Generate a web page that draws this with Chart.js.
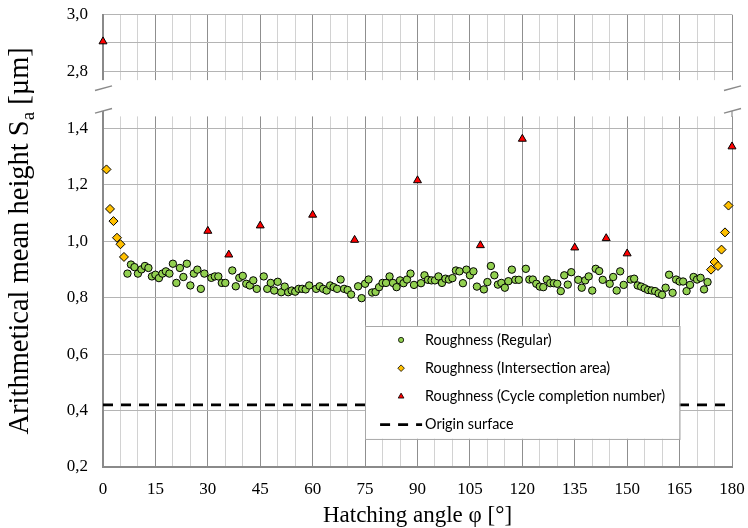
<!DOCTYPE html>
<html><head><meta charset="utf-8">
<script src="https://cdn.jsdelivr.net/npm/chart.js@4.4.1/dist/chart.umd.min.js"></script>
<style>html,body{margin:0;padding:0;background:#fff}#wrap{width:748px;height:528px;position:relative}</style>
</head><body><div id="wrap"><canvas id="c"></canvas></div>
<script>
// ---------- data ----------
const regularAngles = [7,8,9,10,11,12,13,14,15,16,17,18,19,20,21,22,23,24,25,26,27,28,29,
  31,32,33,34,35,37,38,39,40,41,42,43,44,
  46,47,48,49,50,51,52,53,54,55,56,57,58,59,
  61,62,63,64,65,66,67,68,69,70,71,
  73,74,75,76,77,78,79,80,81,82,83,84,85,86,87,88,89,
  91,92,93,94,95,96,97,98,99,100,101,102,103,104,105,106,107,
  109,110,111,112,113,114,115,116,117,118,119,
  121,122,123,124,125,126,127,128,129,130,131,132,133,134,
  136,137,138,139,140,141,142,143,145,146,147,148,149,
  151,152,153,154,155,156,157,158,159,160,161,162,163,164,165,166,167,168,169,170,171,172,173];
const regularValues = [0.885,0.917,0.908,0.885,0.900,0.912,0.905,0.875,0.881,0.869,0.885,0.893,0.885,0.920,0.852,0.905,0.873,0.920,0.843,0.885,0.899,0.831,0.885,
  0.870,0.875,0.875,0.852,0.852,0.896,0.840,0.870,0.877,0.849,0.843,0.861,0.831,
  0.875,0.831,0.852,0.825,0.856,0.819,0.839,0.819,0.825,0.821,0.831,0.831,0.829,0.843,
  0.831,0.840,0.831,0.825,0.843,0.837,0.831,0.864,0.831,0.827,0.811,
  0.840,0.798,0.849,0.864,0.818,0.820,0.837,0.852,0.852,0.875,0.852,0.837,0.861,0.851,0.864,0.885,0.845,
  0.851,0.879,0.863,0.861,0.861,0.875,0.852,0.867,0.864,0.869,0.896,0.893,0.851,0.899,0.879,0.893,0.839,
  0.829,0.855,0.912,0.879,0.846,0.852,0.835,0.858,0.899,0.863,0.863,
  0.902,0.864,0.864,0.849,0.839,0.837,0.864,0.851,0.851,0.849,0.823,0.879,0.846,0.890,
  0.863,0.835,0.861,0.875,0.825,0.902,0.894,0.863,0.849,0.873,0.825,0.893,0.845,
  0.864,0.867,0.843,0.839,0.833,0.827,0.825,0.823,0.815,0.810,0.835,0.881,0.817,0.864,0.857,0.857,0.823,0.845,0.873,0.864,0.870,0.829,0.855];
const intersectionAngles = [1,2,3,4,5,6,174,175,176,177,178,179];
const intersectionValues = [1.254,1.114,1.071,1.012,0.989,0.944,0.899,0.926,0.912,0.970,1.031,1.126];
const cycleAngles = [0,30,36,45,60,72,90,108,120,135,144,150,180];
const cycleValues = [2.905,1.036,0.952,1.055,1.093,1.004,1.215,0.985,1.362,0.977,1.010,0.956,1.335];
const originAngles = [0,180];
const originValues = [0.42,0.42];
const seriesNames = ['Roughness (Regular)','Roughness (Intersection area)','Roughness (Cycle completion number)','Origin surface'];
const xLabelValues = [0,15,30,45,60,75,90,105,120,135,150,165,180];
const yLowerLabelValues = [0.2,0.4,0.6,0.8,1.0,1.2,1.4];
const yUpperLabelValues = [2.8,3.0];
const xTitle = 'Hatching angle φ [°]';
const yTitleMain = 'Arithmetical mean height S', yTitleSub = 'a', yTitleEnd = ' [µm]';

// ---------- axis break set-up ----------
const LOW_MIN = 0.2, LOW_MAX = 1.44;      // lower panel
const HIGH_MIN = 2.77, HIGH_MAX = 3.0;    // upper panel
const GAP = 0.132;                         // blank band between panels (value units)

const pts = (xs, ys) => xs.map((x, i) => ({x: x, y: ys[i]}));
const cyclePts = pts(cycleAngles, cycleValues);
const cycleLow = cyclePts.filter(p => p.y <= LOW_MAX);
const cycleHigh = cyclePts.filter(p => p.y >= HIGH_MIN);

const SERIF = '"Liberation Serif", "Times New Roman", serif';
const GRID_H = '#b4b4b4', GRID_MAJ = '#8f8f8f', GRID_MIN = '#d2d2d2', AXIS = '#8a8a8a';

function stepTicks(a, b, s) { const t = []; for (let v = a; v <= b + 1e-9; v += s) t.push({value: Math.round(v * 100) / 100}); return t; }
const fmt = v => v.toFixed(1).replace('.', ',');
const isLabel = (arr, v) => arr.some(a => Math.abs(a - v) < 1e-6);

const markerStyles = [
  {pointStyle: 'circle', bg: '#92d050', r: 3.7, lr: 2.6},
  {pointStyle: 'rectRot', bg: '#ffc000', r: 4.5, lr: 3.3},
  {pointStyle: 'triangle', bg: '#ff0000', r: 4.6, lr: 3.3}
];

const data = {
  datasets: [
    {label: seriesNames[0], data: pts(regularAngles, regularValues), yAxisID: 'y',
      pointStyle: 'circle', pointRadius: markerStyles[0].r, backgroundColor: markerStyles[0].bg, borderColor: '#000', borderWidth: 1, clip: false},
    {label: seriesNames[1], data: pts(intersectionAngles, intersectionValues), yAxisID: 'y',
      pointStyle: 'rectRot', pointRadius: markerStyles[1].r, backgroundColor: markerStyles[1].bg, borderColor: '#000', borderWidth: 1, clip: false},
    {label: seriesNames[2], data: cycleLow, yAxisID: 'y',
      pointStyle: 'triangle', pointRadius: markerStyles[2].r, backgroundColor: markerStyles[2].bg, borderColor: '#000', borderWidth: 1, clip: false},
    {label: seriesNames[2] + ' ', data: cycleHigh, yAxisID: 'yTop',
      pointStyle: 'triangle', pointRadius: markerStyles[2].r, backgroundColor: markerStyles[2].bg, borderColor: '#000', borderWidth: 1, clip: false},
    {label: seriesNames[3], data: pts(originAngles, originValues), yAxisID: 'y', showLine: true,
      pointRadius: 0, borderColor: '#000', borderWidth: 2.6, borderDash: [10, 8], backgroundColor: '#000', order: 5}
  ]
};

// blank band for the broken axis + break marks
const brokenAxis = {
  id: 'brokenAxis',
  beforeDatasetsDraw(chart) {
    const {ctx, chartArea: ca} = chart;
    const yTop = chart.scales.yTop, y = chart.scales.y;
    const t = yTop.getPixelForValue(HIGH_MIN), b = y.getPixelForValue(LOW_MAX);
    ctx.save();
    ctx.fillStyle = '#fff';
    ctx.fillRect(ca.left - 4, t + 0.5, ca.right - ca.left + 8, b - t - 1);
    ctx.strokeStyle = AXIS; ctx.lineWidth = 1.4;
    const c1 = t + 8.7, c2 = b - 6;
    [ca.left, ca.right].forEach(x0 => {
      [c1, c2].forEach(c => {
        ctx.beginPath(); ctx.moveTo(x0 - 8, c + 2.2); ctx.lineTo(x0 + 9, c - 2.4); ctx.stroke();
      });
      ctx.beginPath(); ctx.lineWidth = x0 === ca.left ? 2 : 1.2; ctx.moveTo(x0, b); ctx.lineTo(x0, c2); ctx.stroke();
      ctx.lineWidth = 1.4;
    });
    ctx.restore();
  }
};

// legend box inside the plot + y-axis title with subscript
const boxLegend = {
  id: 'boxLegend',
  afterDatasetsDraw(chart) {
    const {ctx} = chart;
    const xs = chart.scales.x, ys = chart.scales.y;
    const L = xs.getPixelForValue(75), R = xs.getPixelForValue(165);
    const T = ys.getPixelForValue(0.7), B = ys.getPixelForValue(0.3);
    ctx.save();
    ctx.fillStyle = '#fff'; ctx.fillRect(L, T, R - L, B - T);
    ctx.strokeStyle = '#a8a8a8'; ctx.lineWidth = 1; ctx.strokeRect(Math.round(L) + 0.5, Math.round(T) + 0.5, R - L, B - T);
    let fs = 14;
    ctx.font = fs + 'px Lato, "Open Sans", sans-serif';
    const w = ctx.measureText(seriesNames[2]).width;
    fs = fs * 240 / w;
    ctx.font = fs.toFixed(2) + 'px Lato, "Open Sans", sans-serif';
    ctx.textBaseline = 'middle'; ctx.fillStyle = '#000';
    const rows = [0.65, 0.55, 0.45, 0.35].map(v => ys.getPixelForValue(v));
    const mx = L + 36, tx = L + 60;
    for (let i = 0; i < 3; i++) {
      ctx.fillStyle = markerStyles[i].bg; ctx.strokeStyle = '#000'; ctx.lineWidth = 0.8;
      Chart.helpers.drawPoint(ctx, {pointStyle: markerStyles[i].pointStyle, radius: markerStyles[i].lr, borderWidth: 0.8, rotation: 0}, mx, rows[i]);
      ctx.fillStyle = '#000';
      ctx.fillText(seriesNames[i], tx, rows[i]);
    }
    ctx.strokeStyle = '#000'; ctx.lineWidth = 2.6; ctx.setLineDash([10, 8]);
    ctx.beginPath(); ctx.moveTo(L + 15, rows[3]); ctx.lineTo(L + 57, rows[3]); ctx.stroke();
    ctx.setLineDash([]);
    ctx.fillStyle = '#000';
    ctx.fillText(seriesNames[3], tx, rows[3]);
    ctx.restore();
  },
  afterDraw(chart) {
    const {ctx, chartArea: ca} = chart;
    const fs = 28.5;
    const fMain = fs + 'px ' + SERIF, fSub = Math.round(fs * 0.65) + 'px ' + SERIF;
    ctx.save();
    ctx.font = fMain; const w1 = ctx.measureText(yTitleMain).width, w3 = ctx.measureText(yTitleEnd).width;
    ctx.font = fSub; const w2 = ctx.measureText(yTitleSub).width;
    const total = w1 + w2 + w3;
    ctx.translate(21, (ca.top + ca.bottom) / 2);
    ctx.rotate(-Math.PI / 2);
    ctx.fillStyle = '#000'; ctx.textBaseline = 'middle'; ctx.textAlign = 'left';
    let x = -total / 2;
    ctx.font = fMain; ctx.fillText(yTitleMain, x, 0); x += w1;
    ctx.font = fSub; ctx.fillText(yTitleSub, x, fs * 0.28); x += w2;
    ctx.font = fMain; ctx.fillText(yTitleEnd, x, 0);
    ctx.restore();
  }
};

const noPadY = s => { s.width = 103; s.paddingTop = 0; s.paddingBottom = 0; };

new Chart(document.getElementById('c'), {
  type: 'scatter',
  data: data,
  options: {
    responsive: true, maintainAspectRatio: false, animation: false,
    layout: {padding: {top: 14.7, right: 16, bottom: 0, left: 0}},
    plugins: {legend: {display: false}, tooltip: {enabled: false}},
    scales: {
      x: {
        type: 'linear', min: 0, max: 180,
        afterBuildTicks: s => { s.ticks = stepTicks(0, 180, 5); },
        afterFit: s => { s.height = 61; s.paddingLeft = 0; s.paddingRight = 0; },
        ticks: {autoSkip: false, maxRotation: 0, padding: 12, color: '#000',
          font: {family: SERIF, size: 17},
          callback: v => isLabel(xLabelValues, v) ? String(v) : ''},
        grid: {drawTicks: false, lineWidth: 1,
          color: c => (c.tick && Math.round(c.tick.value) % 15 === 0) ? GRID_MAJ : GRID_MIN},
        border: {color: AXIS, width: 2},
        title: {display: true, text: xTitle, color: '#000', font: {family: SERIF, size: 23}, padding: {top: 0, bottom: -2}}
      },
      y: {
        type: 'linear', position: 'left', stack: 'v', stackWeight: LOW_MAX - LOW_MIN,
        min: LOW_MIN, max: LOW_MAX,
        afterBuildTicks: s => { s.ticks = stepTicks(0.2, 1.4, 0.1); },
        afterFit: noPadY,
        ticks: {padding: 15, color: '#000', font: {family: SERIF, size: 17},
          callback: v => isLabel(yLowerLabelValues, v) ? fmt(v) : ''},
        grid: {drawTicks: false, color: GRID_H, lineWidth: 1},
        border: {color: AXIS, width: 2}
      },
      yTop: {
        type: 'linear', position: 'left', stack: 'v', stackWeight: (HIGH_MAX - HIGH_MIN) + GAP,
        min: HIGH_MIN - GAP, max: HIGH_MAX,
        afterBuildTicks: s => { s.ticks = stepTicks(2.8, 3.0, 0.1); },
        afterFit: noPadY,
        ticks: {padding: 15, color: '#000', font: {family: SERIF, size: 17},
          callback: v => isLabel(yUpperLabelValues, v) ? fmt(v) : ''},
        grid: {drawTicks: false, color: GRID_H, lineWidth: 1},
        border: {color: AXIS, width: 2}
      }
    }
  },
  plugins: [brokenAxis, boxLegend]
});
</script>
</body></html>
